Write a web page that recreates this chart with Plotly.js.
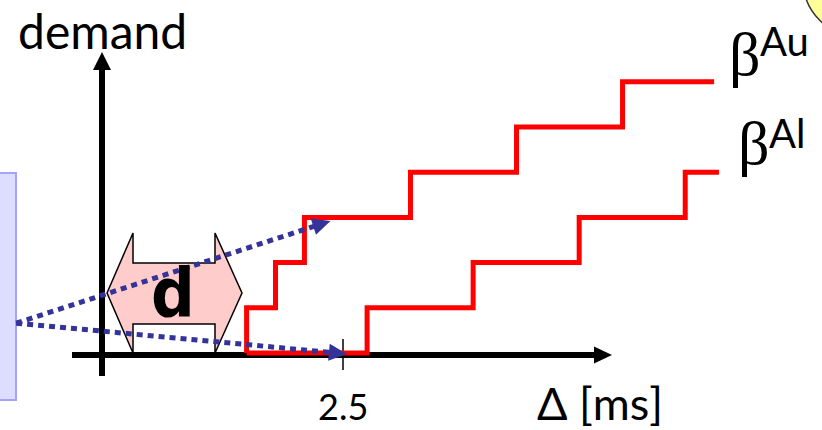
<!DOCTYPE html>
<html>
<head>
<meta charset="utf-8">
<script src="https://cdn.plot.ly/plotly-3.0.1.min.js"></script>
<style>
html,body{margin:0;padding:0;background:#fff;}
#chart{width:822px;height:430px;}
</style>
</head>
<body>
<div id="chart"></div>
<script>
// ---- data (x in ms, y in demand steps) ----
const upperX = [1.5, 1.5, 1.8, 2.1, 3.2, 4.3, 5.4, 6.35];
const upperY = [0, 1, 2, 3, 4, 5, 6, 6];
const lowerX = [1.5, 2.75, 3.85, 4.95, 6.05, 6.4];
const lowerY = [0, 1, 2, 3, 4, 4];
const tickValues = [2.5];
const tickLabels = ['2.5'];
const arrowOrigin = [-0.89, 0.66];
const arrowTipX = [2.37, 2.54];
const arrowTipY = [2.92, -0.02];
const curveNames = ['Au', 'Al'];

// ---- geometry of the page ----
const W = 822, H = 430;
const X0 = 102, SX = 96.4, Y0 = 353, SY = 45.2;
const px2x = px => (px - X0) / SX;
const py2y = py => (Y0 - py) / SY;
const toPx = (x, y) => [X0 + SX * x, Y0 - SY * y];
const px = v => v / W;
const py = v => 1 - v / H;

const shapes = [];
const annotations = [];

// left partial box
shapes.push({type:'rect', xref:'paper', yref:'paper', x0:-0.02, x1:px(16), y0:py(400), y1:py(173),
  fillcolor:'#DDDDFF', line:{color:'#A3A3FF', width:2}, layer:'below'});
// yellow circle at top right
shapes.push({type:'circle', xref:'paper', yref:'paper', x0:px(803), x1:px(917), y0:py(37), y1:py(-77),
  fillcolor:'#FFFF99', line:{color:'#333333', width:1.5}, layer:'below'});

// pink double arrow "d"
const pinkPx = [[107,293],[133,233],[133,263],[215,263],[215,233],[242,293],[215,353],[215,324],[133,324],[133,353]];
shapes.push({type:'path', xref:'x', yref:'y', layer:'below',
  path: 'M' + pinkPx.map(p => px2x(p[0]).toFixed(4) + ',' + py2y(p[1]).toFixed(4)).join('L') + 'Z',
  fillcolor:'#FFCCCC', line:{color:'#000000', width:1.5}});

function triPath(tipPx, dirPx, len, half) {
  const L = Math.hypot(dirPx[0], dirPx[1]);
  const u = [dirPx[0]/L, dirPx[1]/L];
  const n = [-u[1], u[0]];
  const b = [tipPx[0] - len*u[0], tipPx[1] - len*u[1]];
  const pts = [tipPx, [b[0]+half*n[0], b[1]+half*n[1]], [b[0]-half*n[0], b[1]-half*n[1]]];
  return {path:'M' + pts.map(p => px2x(p[0]).toFixed(4)+','+py2y(p[1]).toFixed(4)).join('L') + 'Z', base:b, u:u};
}

// axes (black, with arrow heads)
const axisY = py2y(355);
shapes.push({type:'line', xref:'x', yref:'y', x0:px2x(72), x1:px2x(598), y0:axisY, y1:axisY,
  line:{color:'#000', width:6}, layer:'below'});
shapes.push({type:'line', xref:'x', yref:'y', x0:0, x1:0, y0:py2y(376), y1:py2y(66),
  line:{color:'#000', width:6}, layer:'below'});
const hx = triPath([612,355],[1,0],18,8.5);
shapes.push({type:'path', xref:'x', yref:'y', path:hx.path, fillcolor:'#000', line:{width:0}, layer:'below'});
const hy = triPath([102,52],[0,-1],18,9);
shapes.push({type:'path', xref:'x', yref:'y', path:hy.path, fillcolor:'#000', line:{width:0}, layer:'below'});

const sans = 'Lato, Open Sans, sans-serif';

// tick at 2.5
tickValues.forEach((t, i) => {
  shapes.push({type:'line', xref:'x', yref:'y', x0:t, x1:t, y0:py2y(339), y1:py2y(370),
    line:{color:'#000', width:1.5}, layer:'below'});
  annotations.push({xref:'x', yref:'paper', x:t, y:py(419 - 0.35*36), text:tickLabels[i], showarrow:false,
    xanchor:'center', yanchor:'middle', font:{family:sans, size:36, color:'#000'}});
});

// traces
const traces = [
  {x:upperX, y:upperY, mode:'lines', line:{color:'#FF0000', width:5, shape:'hv'}, hoverinfo:'skip'},
  {x:lowerX, y:lowerY, mode:'lines', line:{color:'#FF0000', width:5, shape:'hv'}, hoverinfo:'skip'}
];

// blue dotted arrows
const o = toPx(arrowOrigin[0], arrowOrigin[1]);
arrowTipX.forEach((tx, i) => {
  const t = toPx(tx, arrowTipY[i]);
  const h = triPath(t, [t[0]-o[0], t[1]-o[1]], 18, 8.5);
  traces.push({x:[arrowOrigin[0], px2x(h.base[0] + 4*h.u[0])],
    y:[arrowOrigin[1], py2y(h.base[1] + 4*h.u[1])],
    mode:'lines', line:{color:'#333399', width:5, dash:'6px,5px'}, hoverinfo:'skip'});
  shapes.push({type:'path', xref:'x', yref:'y', path:h.path, fillcolor:'#333399', line:{width:0}, layer:'above'});
});

// text labels
annotations.push({xref:'paper', yref:'paper', x:px(102.5), y:py(47 - 0.35*48), text:'demand', showarrow:false,
  xanchor:'center', yanchor:'middle', font:{family:sans, size:48, color:'#000'}});
annotations.push({xref:'paper', yref:'paper', x:px(600), y:py(419 - 0.35*45), text:'Δ [ms]', showarrow:false,
  xanchor:'center', yanchor:'middle', font:{family:sans, size:45, color:'#000'}});
annotations.push({xref:'paper', yref:'paper', x:px(173), y:py(317 - 0.35*68), text:'<b>d</b>', showarrow:false,
  xanchor:'center', yanchor:'middle', font:{family:'Liberation Sans Narrow, DejaVu Sans Condensed, sans-serif', size:68, color:'#000'}});
// beta labels
const betaPos = [[727, 76, 758, 55], [736, 165, 767, 147]];
curveNames.forEach((nm, i) => {
  const b = betaPos[i];
  annotations.push({xref:'paper', yref:'paper', x:px(b[0]), y:py(b[1] - 0.35*62), text:'β', showarrow:false,
    xanchor:'left', yanchor:'middle', font:{family:'Liberation Serif, DejaVu Serif, serif', size:62, color:'#000'}});
  annotations.push({xref:'paper', yref:'paper', x:px(b[2]), y:py(b[3] - 0.35*40), text:nm, showarrow:false,
    xanchor:'left', yanchor:'middle', font:{family:sans, size:40, color:'#000'}});
});

const layout = {
  width: W, height: H,
  margin:{l:0, r:0, t:0, b:0, pad:0},
  paper_bgcolor:'#fff', plot_bgcolor:'#fff',
  showlegend:false,
  xaxis:{range:[px2x(0), px2x(W)], visible:false, fixedrange:true},
  yaxis:{range:[py2y(H), py2y(0)], visible:false, fixedrange:true},
  shapes: shapes,
  annotations: annotations
};
Plotly.newPlot('chart', traces, layout, {staticPlot:true, displayModeBar:false});
</script>
</body>
</html>
